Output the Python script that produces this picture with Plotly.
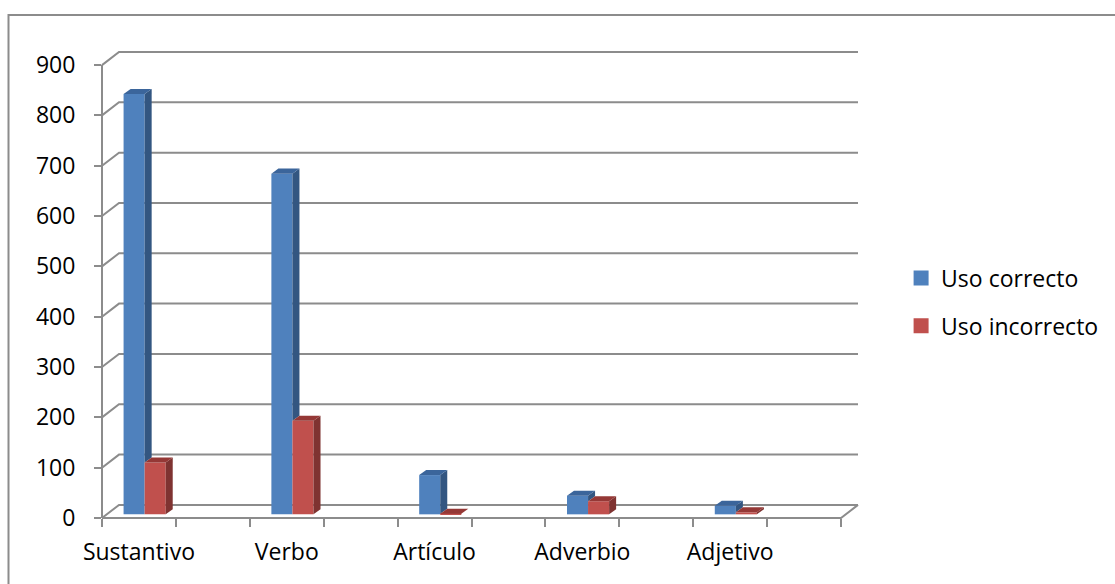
import plotly.graph_objects as go

categories = ["Sustantivo", "Verbo", "Artículo", "Adverbio", "Adjetivo"]
uso_correcto = [835, 677, 78, 37, 17]
uso_incorrecto = [103, 186, 1, 26, 4]
value_ticks = [0, 100, 200, 300, 400, 500, 600, 700, 800, 900]

# The category axis has ten slots; each named category fills every second one.
SLOTS = 10
slot_of = [2 * i for i in range(len(categories))]

BLUE, BLUE_SIDE, BLUE_TOP = "#4F81BD", "#335681", "#3B659B"
RED, RED_SIDE, RED_TOP = "#C0504D", "#7F3331", "#953836"
GRID = "#8C8C8C"
FONT = dict(family="Open Sans, sans-serif", size=23, color="#000000")

# Oblique projection of the depth direction, in axis units.
WALL_DX, WALL_DY = 0.23, 26.0
BAR_DX, BAR_DY = 0.095, 10.0
BAR_W = 0.285
BAR_LEFT = 0.292
BAR_BASE = 7.3

X_MAX = SLOTS + WALL_DX
Y_MAX = value_ticks[-1] + WALL_DY


def px(x):
    # Axis position as a fraction of the plot width, so strokes on the edge stay whole.
    return x / X_MAX


def py(y):
    return y / Y_MAX


def poly(xs, ys, color):
    return go.Scatter(
        x=xs + xs[:1], y=ys + ys[:1], mode="lines", fill="toself",
        fillcolor=color, line=dict(width=0), hoverinfo="skip", showlegend=False,
    )


fig = go.Figure()

# Front faces are ordinary bars.
for k, (name, values, color) in enumerate(
    [("Uso correcto", uso_correcto, BLUE), ("Uso incorrecto", uso_incorrecto, RED)]
):
    fig.add_trace(go.Bar(
        x=[s + BAR_LEFT + BAR_W * (k + 0.5) for s in slot_of],
        y=values, base=BAR_BASE, width=BAR_W, name=name,
        marker=dict(color=color, line=dict(width=0)), showlegend=False,
    ))

# Side and top faces; a side stops where the next bar's front and top hide it.
for s, blue, red in zip(slot_of, uso_correcto, uso_incorrecto):
    x0 = s + BAR_LEFT
    x1 = x0 + BAR_W
    x2 = x1 + BAR_W
    b_top = BAR_BASE + blue
    r_top = BAR_BASE + red
    fig.add_trace(poly([x1, x1 + BAR_DX, x1 + BAR_DX, x1],
                       [r_top, r_top + BAR_DY, b_top + BAR_DY, b_top], BLUE_SIDE))
    fig.add_trace(poly([x0, x1, x1 + BAR_DX, x0 + BAR_DX],
                       [b_top, b_top, b_top + BAR_DY, b_top + BAR_DY], BLUE_TOP))
    fig.add_trace(poly([x2, x2 + BAR_DX, x2 + BAR_DX, x2],
                       [BAR_BASE, BAR_BASE + BAR_DY, r_top + BAR_DY, r_top], RED_SIDE))
    fig.add_trace(poly([x1, x2, x2 + BAR_DX, x1 + BAR_DX],
                       [r_top, r_top, r_top + BAR_DY, r_top + BAR_DY], RED_TOP))

# Legend entries with larger swatches than the default bar key.
for name, color in [("Uso correcto", BLUE), ("Uso incorrecto", RED)]:
    fig.add_trace(go.Bar(
        x=[None], y=[None], name=name, legendgroup=name,
        marker=dict(color=color, line=dict(color=color, width=3)),
    ))

grid_line = dict(color=GRID, width=2)
shapes = []
# Wall gridlines, running back from the value axis and along the rear wall.
for v in value_ticks:
    shapes.append(dict(
        type="path", xref="paper", yref="paper", layer="below", line=grid_line,
        path=f"M{px(0)},{py(v)} L{px(WALL_DX)},{py(v + WALL_DY)} L{px(X_MAX)},{py(v + WALL_DY)}",
    ))
# Value axis, front floor edge and right floor edge.
shapes.append(dict(type="line", xref="paper", yref="paper", layer="below", line=grid_line,
                   x0=px(0), x1=px(0), y0=py(0), y1=py(value_ticks[-1])))
shapes.append(dict(
    type="path", xref="paper", yref="paper", layer="below", line=grid_line,
    path=f"M{px(0)},{py(0)} L{px(SLOTS)},{py(0)} L{px(X_MAX)},{py(WALL_DY)}",
))
# Outer chart border; only its left and top edges fall inside the page.
bx0, bx1 = (8.5 - 102) / 756, (1130 - 102) / 756
by0, by1 = (518 - 600) / 466, (518 - 15) / 466
shapes.append(dict(
    type="path", xref="paper", yref="paper", layer="below",
    path=f"M{bx0},{by0} L{bx0},{by1} L{bx1},{by1}",
    line=dict(color=GRID, width=2),
))

fig.update_layout(
    width=1115, height=584,
    margin=dict(l=102, r=257, t=52, b=66, autoexpand=False),
    paper_bgcolor="#FFFFFF", plot_bgcolor="rgba(0,0,0,0)",
    barmode="overlay", font=FONT, shapes=shapes,
    legend=dict(
        x=1.057, y=0.4635, xanchor="left", yanchor="middle",
        traceorder="grouped", tracegroupgap=15, itemclick=False,
        bgcolor="rgba(0,0,0,0)", font=FONT,
    ),
    xaxis=dict(
        range=[0, X_MAX], showgrid=False, zeroline=False, showline=False,
        tickmode="array", tickvals=[s + 0.5 for s in slot_of], ticktext=categories,
        ticks="", ticklabelstandoff=18, tickfont=FONT,
        minor=dict(tickmode="array", tickvals=list(range(SLOTS + 1)), ticks="outside",
                   ticklen=8, tickwidth=2, tickcolor=GRID, showgrid=False),
    ),
    yaxis=dict(
        range=[0, Y_MAX], showgrid=False, zeroline=False, showline=False,
        tickmode="array", tickvals=value_ticks, ticks="outside", ticklen=7, tickwidth=2,
        tickcolor=GRID, ticklabelstandoff=14, tickfont=FONT,
    ),
)

fig.write_html("out.html")
